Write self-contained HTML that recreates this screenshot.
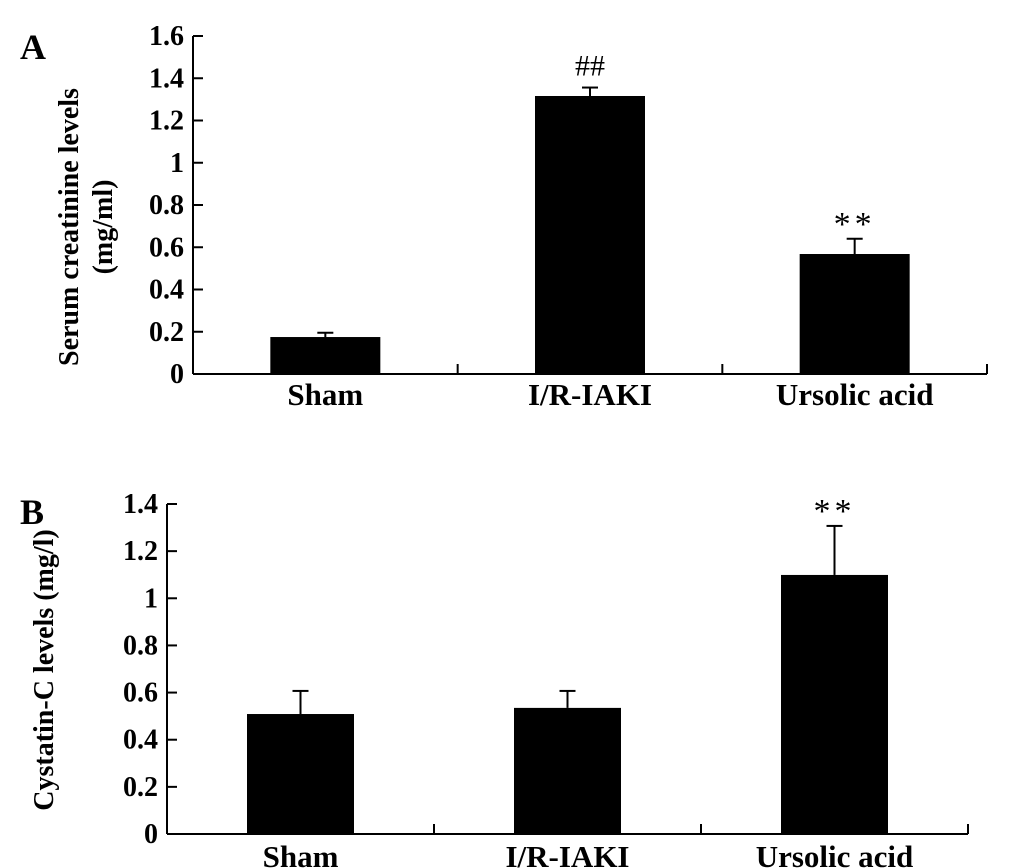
<!DOCTYPE html>
<html><head><meta charset="utf-8"><style>
body{margin:0;background:#fff}
svg{display:block;font-family:"Liberation Serif",serif;font-weight:bold}
</style></head><body>
<svg id="c" width="1033" height="868" viewBox="0 0 1033 868"></svg>
<script>
const categories=["Sham","I/R-IAKI","Ursolic acid"];
const valuesA=[0.175,1.316,0.568];
const errorsA=[0.02,0.04,0.072];
const annotA=["","##","**"];
const ticksA=[0,0.2,0.4,0.6,0.8,1,1.2,1.4,1.6];
const tickLabelsA=["0","0.2","0.4","0.6","0.8","1","1.2","1.4","1.6"];
const valuesB=[0.509,0.535,1.099];
const errorsB=[0.098,0.072,0.208];
const annotB=["","","**"];
const ticksB=[0,0.2,0.4,0.6,0.8,1,1.2,1.4];
const tickLabelsB=["0","0.2","0.4","0.6","0.8","1","1.2","1.4"];

const svg=document.getElementById('c');
const NS='http://www.w3.org/2000/svg';
function mk(t,a,p){const e=document.createElementNS(NS,t);for(const k in a)e.setAttribute(k,a[k]);(p||svg).appendChild(e);return e;}
function panel(o){
  const g=mk('g',{});
  
  
  const y=v=>o.y0-(v/o.max)*(o.y0-o.yTop);
  const cw=(o.x1-o.x0)/categories.length;
  const x=i=>o.x0+cw*(i+0.5);
  const ya=mk('line',{x1:o.x0,y1:y(o.max),x2:o.x0,y2:o.y0,stroke:'#000','stroke-width':2},g);
  
  const xa=mk('line',{x1:o.x0,y1:o.y0,x2:o.x1,y2:o.y0,stroke:'#000','stroke-width':2},g);
  
  o.ticks.forEach((t,i)=>{
    mk('line',{x1:o.x0,y1:y(t),x2:o.x0+10,y2:y(t),stroke:'#000','stroke-width':2},g);
    const tx=mk('text',{x:o.x0-9,y:y(t)+9,'text-anchor':'end','font-size':28},g);
    tx.textContent=o.tickLabels[i];
    
  });
  for(let i=1;i<=categories.length;i++){
    const xx=o.x0+cw*i;
    mk('line',{x1:xx,y1:o.y0,x2:xx,y2:o.y0-10,stroke:'#000','stroke-width':2},g);
  }
  categories.forEach((c,i)=>{
    const v=o.values[i],e=o.errors[i];
    const b=mk('rect',{x:x(i)-o.bw/2,y:y(v),width:o.bw,height:o.y0-y(v),fill:'#000'},g);
    
    
    mk('line',{x1:x(i),y1:y(v),x2:x(i),y2:y(v+e),stroke:'#000','stroke-width':2},g);
    mk('line',{x1:x(i)-8,y1:y(v+e),x2:x(i)+8,y2:y(v+e),stroke:'#000','stroke-width':2},g);
    if(o.annot[i]){
      const a=mk('text',{x:x(i),y:y(v+e)-(o.annot[i]=='**'?4:12),'text-anchor':'middle','font-size':o.annot[i]=='**'?34:30,'font-weight':'normal','letter-spacing':o.annot[i]=='**'?4:0},g);
      a.textContent=o.annot[i];
      
    }
    const l=mk('text',{x:x(i),y:o.labelY,'text-anchor':'middle','font-size':31},g);
    l.textContent=c;
    
  });
}
panel({name:'panel-a',x0:193,x1:987,y0:374,yTop:36,max:1.6,bw:110,values:valuesA,errors:errorsA,annot:annotA,ticks:ticksA,tickLabels:tickLabelsA,labelY:405});
panel({name:'panel-b',x0:167,x1:968,y0:834,yTop:504,max:1.4,bw:107,values:valuesB,errors:errorsB,annot:annotB,ticks:ticksB,tickLabels:tickLabelsB,labelY:867});
</script>
<svg style="position:absolute;left:0;top:0" width="1033" height="868">
<text x="20" y="59" font-size="36" font-family="Liberation Serif" font-weight="bold">A</text>
<text x="20" y="524" font-size="36" font-family="Liberation Serif" font-weight="bold">B</text>
<text transform="translate(78,227) rotate(-90)" text-anchor="middle" font-size="28" font-family="Liberation Serif" font-weight="bold">Serum creatinine levels</text>
<text transform="translate(112,227) rotate(-90)" text-anchor="middle" font-size="28" font-family="Liberation Serif" font-weight="bold">(mg/ml)</text>
<text transform="translate(53,670) rotate(-90)" text-anchor="middle" font-size="28" font-family="Liberation Serif" font-weight="bold">Cystatin-C levels (mg/l)</text>
</svg>
</body></html>
